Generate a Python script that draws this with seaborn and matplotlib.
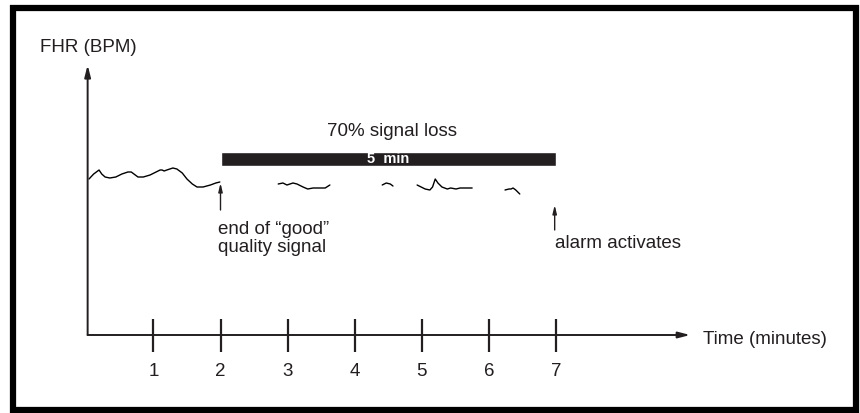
import matplotlib
matplotlib.use("Agg")
import matplotlib.pyplot as plt
from matplotlib.patches import Rectangle
import seaborn as sns
import pandas as pd

sns.set_style("white")
plt.rcParams['font.family'] = ['Liberation Sans', 'DejaVu Sans']

# FHR trace fragments (time in minutes, heart rate in BPM)
seg1_t = [0.04, 0.11, 0.19, 0.23, 0.28, 0.35, 0.44, 0.53, 0.62, 0.67, 0.71, 0.77, 0.85,
          0.95, 1.04, 1.10, 1.13, 1.16, 1.20, 1.29, 1.35, 1.43, 1.50, 1.58, 1.65, 1.74,
          1.85, 1.93, 1.99]
seg1_bpm = [138, 140.5, 142.5, 140.5, 139, 138.5, 139, 140.5, 141.5, 141.5, 140.5, 139, 139,
            140, 141.5, 142.5, 142.5, 142, 142.5, 143.5, 143, 141, 138, 135.5, 134, 134,
            135, 136, 136.5]
seg2_t = [2.86, 2.93, 2.99, 3.08, 3.14, 3.23, 3.30, 3.38, 3.45, 3.56, 3.63]
seg2_bpm = [135.5, 136, 135, 136, 135.5, 134, 133, 133.5, 133.5, 133.5, 135]
seg3_t = [4.41, 4.47, 4.53, 4.57]
seg3_bpm = [135, 136, 135.5, 134.5]
seg4_t = [4.93, 4.99, 5.05, 5.12, 5.16, 5.20, 5.24, 5.30, 5.38, 5.43, 5.51, 5.57, 5.75]
seg4_bpm = [135, 134, 133, 132.5, 134, 138, 136, 134, 133, 133.5, 133, 133.5, 133.5]
seg5_t = [6.24, 6.30, 6.33, 6.36, 6.40, 6.46]
seg5_bpm = [132.5, 133, 133, 133.5, 132.5, 130.5]

minute_ticks = [1, 2, 3, 4, 5, 6, 7]
minute_labels = ["1", "2", "3", "4", "5", "6", "7"]
loss_start, loss_end = 2, 7

segs = [(seg1_t, seg1_bpm), (seg2_t, seg2_bpm), (seg3_t, seg3_bpm),
        (seg4_t, seg4_bpm), (seg5_t, seg5_bpm)]
rows = []
for k, (ts, bs) in enumerate(segs):
    for t, b in zip(ts, bs):
        rows.append({"seg": k, "minute": t, "bpm": b})
df = pd.DataFrame(rows)

fig = plt.figure(figsize=(8.6, 4.13), dpi=100)
ax = fig.add_axes([0, 0, 1, 1])
ax.set_xlim(-1.286, 11.53)
ax.set_ylim(21, 227.5)
ax.axis('off')

fs = 13.5
ink = "#231f20"

sns.lineplot(data=df, x="minute", y="bpm", units="seg", estimator=None,
             color="black", lw=1.0, ax=ax, legend=False)

# axes with arrows
ax.annotate("", xy=(0.02, 195), xytext=(0.02, 60),
            arrowprops=dict(arrowstyle="-|>,head_width=0.18,head_length=0.7",
                            lw=1.4, color=ink, shrinkA=0, shrinkB=0))
ax.annotate("", xy=(9.0, 60), xytext=(0.02, 60),
            arrowprops=dict(arrowstyle="-|>,head_width=0.18,head_length=0.7",
                            lw=1.4, color=ink, shrinkA=0, shrinkB=0))
ax.vlines(minute_ticks, 51.5, 68, color=ink, lw=1.6)
for t, lab in zip(minute_ticks, minute_labels):
    ax.text(t, 42, lab, ha="center", va="center", fontsize=fs, color=ink)

ax.text(9.19, 57.5, "Time (minutes)", ha="left", va="center", fontsize=fs, color=ink)
ax.text(0.03, 204, "FHR (BPM)", ha="center", va="center", fontsize=fs, color=ink)

# signal loss bar
ax.barh(148, loss_end - loss_start, left=loss_start, height=7, color=ink)
ax.text((loss_start + loss_end) / 2, 148, "5  min", ha="center", va="center",
        fontsize=10.5, fontweight="bold", color="white")
ax.text(4.55, 161.5, "70% signal loss", ha="center", va="center", fontsize=fs, color=ink)

# annotations
ax.annotate("", xy=(loss_start, 136), xytext=(loss_start, 122.5),
            arrowprops=dict(arrowstyle="-|>,head_width=0.12,head_length=0.5",
                            lw=1.0, color=ink, shrinkA=0, shrinkB=0))
ax.text(1.96, 117, "end of \u201cgood\u201d\nquality signal", ha="left", va="top",
        fontsize=fs, color=ink, linespacing=1.05)
ax.annotate("", xy=(6.98, 125), xytext=(6.98, 112.5),
            arrowprops=dict(arrowstyle="-|>,head_width=0.12,head_length=0.5",
                            lw=1.0, color=ink, shrinkA=0, shrinkB=0))
ax.text(6.98, 106, "alarm activates", ha="left", va="center", fontsize=fs, color=ink)

# thick frame
fig.patches.append(Rectangle((13 / 860, 3 / 413), 843 / 860, 402 / 413,
                             transform=fig.transFigure, fill=False,
                             lw=4.5, edgecolor="black"))

fig.savefig("out.png", dpi=100)
